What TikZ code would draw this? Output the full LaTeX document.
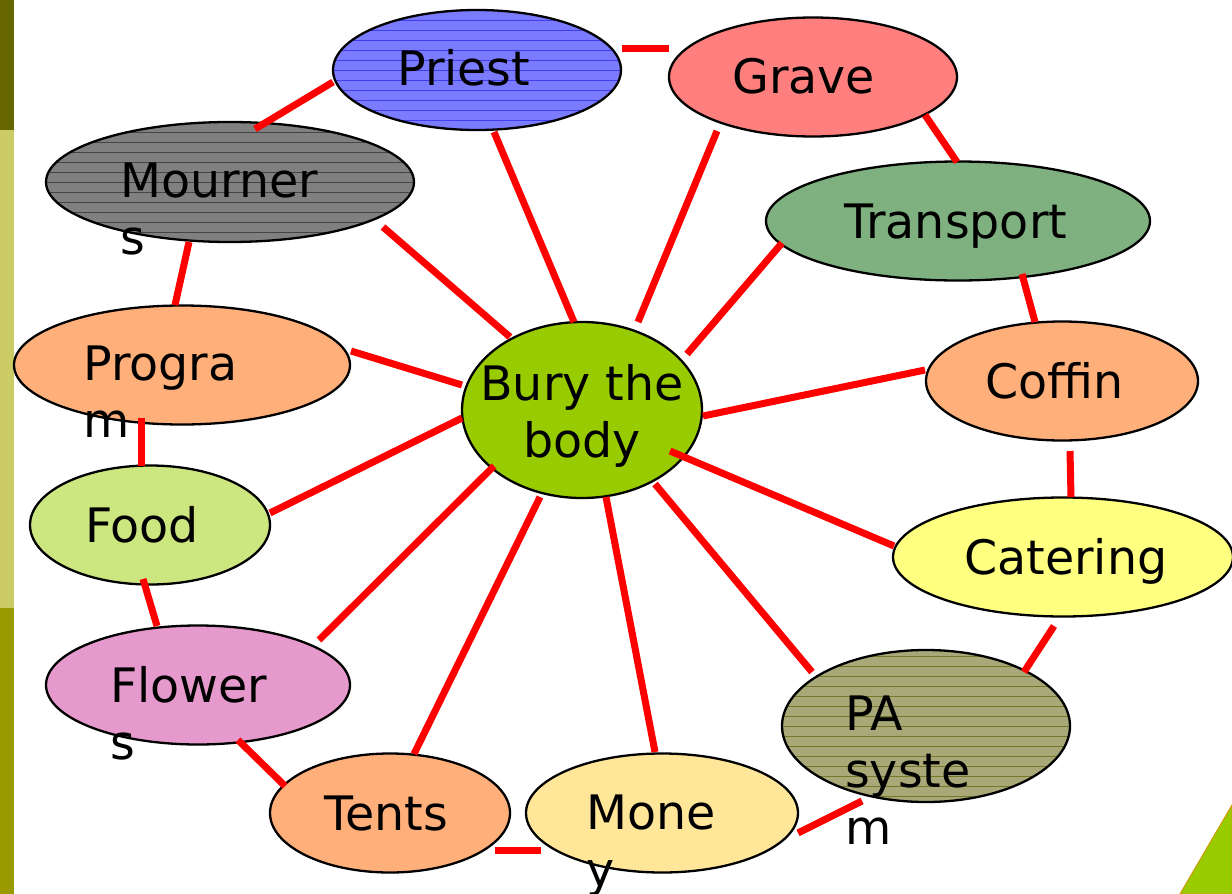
\documentclass[tikz,border=0pt]{standalone}
\usepackage{fontspec}
\setmainfont{DejaVu Sans}
\usetikzlibrary{shapes.geometric}

\definecolor{barDark}{HTML}{666600}
\definecolor{barLight}{HTML}{CCCC66}
\definecolor{barOlive}{HTML}{999900}
\definecolor{hubGreen}{HTML}{99CC00}
\definecolor{cornerEdge}{HTML}{CC9900}
\definecolor{priestFill}{HTML}{7B7BFF}
\definecolor{priestLine}{HTML}{3F3FEE}
\definecolor{graveFill}{HTML}{FF7F7F}
\definecolor{transportFill}{HTML}{7FB07F}
\definecolor{peach}{HTML}{FFAF7A}
\definecolor{cateringFill}{HTML}{FFFF80}
\definecolor{paFill}{HTML}{A8A878}
\definecolor{paLine}{HTML}{77772A}
\definecolor{moneyFill}{HTML}{FFE699}
\definecolor{flowersFill}{HTML}{E699CC}
\definecolor{foodFill}{HTML}{CCE680}
\definecolor{mournersFill}{HTML}{808080}
\definecolor{mournersLine}{HTML}{444444}

\newcommand\link[4]{\draw[wire] ([shift={#2}]#1.center) -- ([shift={#4}]#3.center);}

\tikzset{
  blob/.style={ellipse, draw=black, line width=2.3pt, inner sep=0pt},
  hatch/.style={path picture={
    \foreach \k in {-9,...,9}{
      \draw[#1, line width=0.9pt]
        ([yshift=\k*10pt]path picture bounding box.west) --
        ([yshift=\k*10pt]path picture bounding box.east);}}},
  wire/.style={draw=red, line width=7pt},
  txt/.style={font=\fontsize{47.5}{57}\selectfont, inner sep=0pt, align=left, anchor=base west},
}

\begin{document}
\begin{tikzpicture}[x=1pt, y=-1pt]
\useasboundingbox (0,0) rectangle (1232,894);

% side bar and corner
\fill[barDark] (0,0) rectangle (14,130);
\fill[barLight] (0,130) rectangle (14,608);
\fill[barOlive] (0,608) rectangle (14,894);
\filldraw[fill=hubGreen, draw=cornerEdge, line width=1pt] (1232,805) -- (1180,894) -- (1232,894) -- cycle;

% ellipses
\node[blob, fill=priestFill, hatch=priestLine, minimum width=288pt, minimum height=120pt] (priest) at (477,70) {};
\node[blob, fill=graveFill, minimum width=288pt, minimum height=119pt] (grave) at (813,77) {};
\node[blob, fill=transportFill, minimum width=384pt, minimum height=119pt] (transport) at (958,221) {};
\node[blob, fill=peach, minimum width=272pt, minimum height=119pt] (coffin) at (1062,381) {};
\node[blob, fill=cateringFill, minimum width=340pt, minimum height=119pt] (catering) at (1063,557) {};
\node[blob, fill=paFill, hatch=paLine, minimum width=288pt, minimum height=152pt] (pa) at (926,726) {};
\node[blob, fill=moneyFill, minimum width=272pt, minimum height=119pt] (money) at (662,813) {};
\node[blob, fill=peach, minimum width=240pt, minimum height=119pt] (tents) at (390,813) {};
\node[blob, fill=flowersFill, minimum width=304pt, minimum height=119pt] (flowers) at (198,685) {};
\node[blob, fill=foodFill, minimum width=240pt, minimum height=119pt] (food) at (150,525) {};
\node[blob, fill=peach, minimum width=336pt, minimum height=119pt] (program) at (182,365) {};
\node[blob, fill=mournersFill, hatch=mournersLine, minimum width=368pt, minimum height=120pt] (mourners) at (230,182) {};
\node[blob, fill=hubGreen, minimum width=240pt, minimum height=176pt] (hub) at (582,410) {};

% spokes from the hub
\link{mourners}{(153,45)}{hub}{(-72,-73)}
\link{priest}{(17,62)}{hub}{(-8,-88)}
\link{grave}{(-96,54)}{hub}{(56,-88)}
\link{transport}{(-176,22)}{hub}{(105,-56)}
\link{coffin}{(-137,-11)}{hub}{(121,6)}
\link{catering}{(-169,-11)}{hub}{(88,41)}
\link{pa}{(-114,-54)}{hub}{(73,74)}
\link{money}{(-7,-61)}{hub}{(24,87)}
\link{tents}{(24,-59)}{hub}{(-42,87)}
\link{flowers}{(121,-45)}{hub}{(-88,56)}
\link{food}{(120,-12)}{hub}{(-120,8)}
\link{program}{(169,-14)}{hub}{(-120,-25)}

% ring around the hub
\link{priest}{(145,-22)}{grave}{(-144,-29)}
\link{grave}{(112,38)}{transport}{(-1,-59)}
\link{transport}{(64,53)}{coffin}{(-27,-59)}
\link{coffin}{(8,70)}{catering}{(8,-60)}
\link{catering}{(-9,69)}{pa}{(98,-54)}
\link{pa}{(-64,75)}{money}{(136,20)}
\link{money}{(-121,37)}{tents}{(105,37)}
\link{tents}{(-105,-27)}{flowers}{(40,55)}
\link{flowers}{(-41,-59)}{food}{(-7,54)}
\link{food}{(-9,-59)}{program}{(-41,53)}
\link{program}{(-7,-60)}{mourners}{(-41,60)}
\link{mourners}{(25,-53)}{priest}{(-144,12)}

% labels (multi-line labels are anchored at the baseline of their last line)
\node[txt] (tPriest) at (397,85) {Priest};
\node[txt] (tGrave) at (732,93) {Grave};
\node[txt] (tTransport) at (844,238) {Transport};
\node[txt] (tCoffin) at (985,398) {Coffin};
\node[txt] (tCatering) at (964,574) {Catering};
\node[txt] (tPa) at (845,844) {PA\\syste\\m};
\node[txt] (tMoney) at (586,886) {Mone\\y};
\node[txt] (tTents) at (324,830) {Tents};
\node[txt] (tFlowers) at (110,759) {Flower\\s};
\node[txt] (tFood) at (85,542) {Food};
\node[txt] (tProgram) at (83,437) {Progra\\m};
\node[txt] (tMourners) at (120,254) {Mourner\\s};
\node[txt, align=center, anchor=base] (tHub) at (582,457) {Bury the\\body};
\end{tikzpicture}
\end{document}
